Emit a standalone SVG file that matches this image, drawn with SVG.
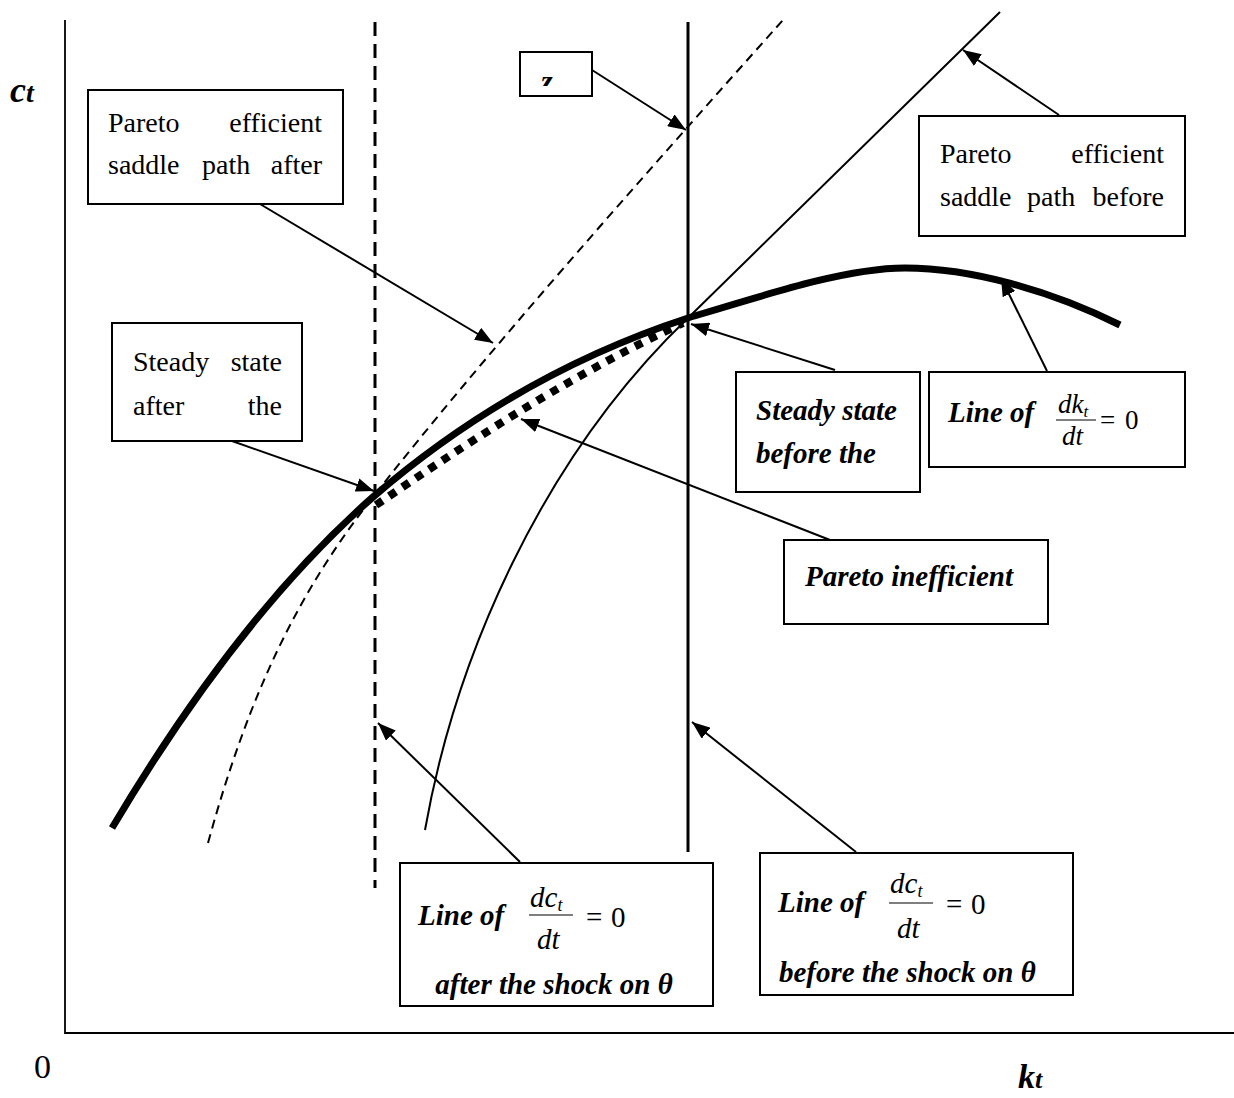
<svg xmlns="http://www.w3.org/2000/svg" width="1234" height="1098" viewBox="0 0 1234 1098">
<style>
.box{fill:#fff;stroke:#000;stroke-width:2}
text{font-family:"Liberation Serif","Times New Roman",Tinos,"DejaVu Serif",serif;fill:#000}
.r{font-size:28px}
.bi{font-size:29px;font-weight:bold;font-style:italic}
.it{font-style:italic}
.ax{stroke:#000;stroke-width:1.8;fill:none}
.arr{stroke:#000;stroke-width:2;fill:none;marker-end:url(#ah)}
.bar{stroke:#000;stroke-width:1.2}
</style>
<defs>
<marker id="ah" markerUnits="userSpaceOnUse" markerWidth="20" markerHeight="14" refX="18" refY="7" orient="auto">
<path d="M0,0 L18,7 L0,14 z" fill="#000"/>
</marker>
<clipPath id="zclip"><rect x="521" y="53" width="70" height="33"/></clipPath>
</defs>
<rect width="1234" height="1098" fill="#fff"/>

<g id="axes">
<path class="ax" d="M65,20 V1033 H1234"/>
<text x="10" y="102" style="font-size:36px;font-weight:bold;font-style:italic">c<tspan style="font-size:28px">t</tspan></text>
<text x="34" y="1078" style="font-size:34px">0</text>
<text x="1018" y="1088" style="font-size:34px;font-weight:bold;font-style:italic">k<tspan style="font-size:26px">t</tspan></text>
</g>

<g id="curves">
<line x1="688" y1="22" x2="688" y2="852" stroke="#000" stroke-width="3"/>
<line x1="375" y1="22" x2="375" y2="888" stroke="#000" stroke-width="3" stroke-dasharray="14,8"/>
<path d="M208,843 C250,690 300,590 373,497 C480,360 640,180 783,20" fill="none" stroke="#000" stroke-width="2" stroke-dasharray="9,6"/>
<path d="M425,830 C455,660 540,460 688,318 L1000,12" fill="none" stroke="#000" stroke-width="2"/>
<path d="M112,828 C200,680 290,570 373,497 C480,405 590,350 688,318 C780,290 850,268 905,268 C970,268 1050,290 1120,325" fill="none" stroke="#000" stroke-width="7"/>
<path d="M376,505 C450,455 560,380 683,323" fill="none" stroke="#000" stroke-width="8" stroke-dasharray="8,8"/>
</g>

<g id="connectors">
<line class="arr" x1="592" y1="70" x2="686" y2="130"/>
<line class="arr" x1="1059" y1="115" x2="963" y2="50"/>
<line class="arr" x1="260" y1="204" x2="493" y2="343"/>
<line class="arr" x1="232" y1="441" x2="374" y2="491"/>
<line class="arr" x1="835" y1="370" x2="691" y2="324"/>
<line class="arr" x1="1047" y1="371" x2="1001" y2="278"/>
<line class="arr" x1="830" y1="540" x2="521" y2="419"/>
<line class="arr" x1="520" y1="862" x2="378" y2="723"/>
<line class="arr" x1="856" y1="852" x2="692" y2="722"/>
</g>

<g id="box-after-saddle">
<rect class="box" x="88" y="90" width="255" height="114"/>
<text class="r" x="108" y="132">Pareto</text>
<text class="r" x="322" y="132" text-anchor="end">efficient</text>
<text class="r" x="108" y="174">saddle</text>
<text class="r" x="202" y="174">path</text>
<text class="r" x="322" y="174" text-anchor="end">after</text>
</g>

<g id="box-z">
<rect class="box" x="520" y="52" width="72" height="44"/>
<text x="541" y="91" style="font-size:30px;font-weight:bold;font-style:italic" clip-path="url(#zclip)">z</text>
</g>

<g id="box-before-saddle">
<rect class="box" x="919" y="116" width="266" height="120"/>
<text class="r" x="940" y="163">Pareto</text>
<text class="r" x="1164" y="163" text-anchor="end">efficient</text>
<text class="r" x="940" y="206">saddle</text>
<text class="r" x="1027" y="206">path</text>
<text class="r" x="1164" y="206" text-anchor="end">before</text>
</g>

<g id="box-ss-after">
<rect class="box" x="112" y="323" width="190" height="118"/>
<text class="r" x="133" y="371">Steady</text>
<text class="r" x="282" y="371" text-anchor="end">state</text>
<text class="r" x="133" y="415">after</text>
<text class="r" x="282" y="415" text-anchor="end">the</text>
</g>

<g id="box-ss-before">
<rect class="box" x="736" y="372" width="184" height="120"/>
<text class="bi" x="756" y="420">Steady state</text>
<text class="bi" x="756" y="463">before the</text>
</g>

<g id="box-dk">
<rect class="box" x="929" y="372" width="256" height="95"/>
<text class="bi" x="948" y="422">Line of</text>
<text class="it" x="1058" y="413" style="font-size:27px">dk<tspan style="font-size:17px" dy="4">t</tspan></text>
<line class="bar" x1="1056" y1="420" x2="1096" y2="420"/>
<text class="it" x="1062" y="445" style="font-size:27px">dt</text>
<text x="1100" y="429" style="font-size:27px">=</text>
<text x="1125" y="429" style="font-size:27px">0</text>
</g>

<g id="box-ineff">
<rect class="box" x="784" y="540" width="264" height="84"/>
<text class="bi" x="909" y="586" text-anchor="middle">Pareto inefficient</text>
</g>

<g id="box-dc-after">
<rect class="box" x="400" y="863" width="313" height="143"/>
<text class="bi" x="418" y="925">Line of</text>
<text class="it" x="530" y="907" style="font-size:29px">dc<tspan style="font-size:18px" dy="4">t</tspan></text>
<line class="bar" x1="529" y1="915" x2="573" y2="915"/>
<text class="it" x="537" y="949" style="font-size:29px">dt</text>
<text x="586" y="927" style="font-size:29px">=</text>
<text x="611" y="927" style="font-size:29px">0</text>
<text class="bi" x="554" y="994" text-anchor="middle">after the shock on θ</text>
</g>

<g id="box-dc-before">
<rect class="box" x="760" y="853" width="313" height="142"/>
<text class="bi" x="778" y="912">Line of</text>
<text class="it" x="890" y="893" style="font-size:29px">dc<tspan style="font-size:18px" dy="4">t</tspan></text>
<line class="bar" x1="889" y1="903" x2="933" y2="903"/>
<text class="it" x="897" y="938" style="font-size:29px">dt</text>
<text x="946" y="914" style="font-size:29px">=</text>
<text x="971" y="914" style="font-size:29px">0</text>
<text class="bi" x="779" y="982">before the shock on θ</text>
</g>
</svg>
